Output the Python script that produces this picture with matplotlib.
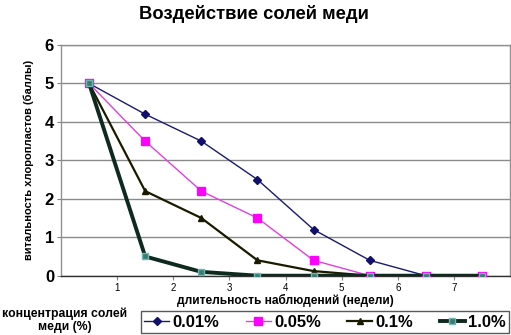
import matplotlib
matplotlib.use("Agg")
import matplotlib.pyplot as plt

plt.rcParams['font.family'] = ['Liberation Sans', 'DejaVu Sans']

weeks = [0.5, 1.5, 2.5, 3.5, 4.5, 5.5, 6.5, 7.5]
s001 = [5, 4.2, 3.5, 2.5, 1.2, 0.4, 0, 0]
s005 = [5, 3.5, 2.2, 1.5, 0.4, 0, 0, 0]
s01 = [5, 2.2, 1.5, 0.4, 0.12, 0, 0, 0]
s10 = [5, 0.5, 0.1, 0, 0, 0, 0, 0]
labels = ['0.01%', '0.05%', '0.1%', '1.0%']
xticks = [1, 2, 3, 4, 5, 6, 7]
yticks = [0, 1, 2, 3, 4, 5, 6]

fig = plt.figure(figsize=(5.11, 3.35), dpi=100)
ax = fig.add_axes([61/511, 1-275.7/335, 449/511, 230.7/335])

l1, = ax.plot(weeks, s001, color='#1a1a6e', lw=1.0, marker='D', ms=4,
              mfc='#10106a', mec='#10106a', label=labels[0], zorder=3)
l2, = ax.plot(weeks, s005, color='#e040e0', lw=1.0, marker='s', ms=6,
              mfc='#ff00ff', mec='#ff00ff', label=labels[1], zorder=3)
l3, = ax.plot(weeks, s01, color='#1a1a00', lw=1.6, marker='^', ms=5,
              mfc='#1a1a00', mec='#1a1a00', label=labels[2], zorder=3)
l4, = ax.plot(weeks, s10, color='#0e2a1e', lw=2.8, marker='s', ms=5,
              mfc='#3c7a74', mec='#6fb8b0', mew=1.0, label=labels[3], zorder=4)

ax.set_xlim(0, 8)
ax.set_ylim(0, 6)
ax.set_xticks(xticks)
ax.set_yticks(yticks)
ax.tick_params(axis='x', labelsize=7, length=3, color='#808080', pad=2)
ax.tick_params(axis='y', labelsize=12, length=3, color='#808080', pad=2)
for t in ax.get_yticklabels():
    t.set_fontweight('bold')
ax.yaxis.grid(True, color='#8a8a8a', lw=1.0)
ax.set_axisbelow(True)
for sp in ax.spines.values():
    sp.set_color('#909090')
    sp.set_linewidth(1.0)
ax.spines['bottom'].set_color('#303030')

ax.set_ylabel('витальность хлоропластов (баллы)', fontsize=8, fontweight='bold', labelpad=8)
ax.set_xlabel('длительность наблюдений (недели)', fontsize=8.6, fontweight='bold', labelpad=1)

fig.text(254/511, 1-14/335, 'Воздействие солей меди', ha='center', va='center',
         fontsize=13.2, fontweight='bold')
fig.text(65/511, 1-320/335, 'концентрация солей\nмеди (%)', ha='center', va='center',
         fontsize=8.8, fontweight='bold', linespacing=1.1)

x0, x1 = 141/511, 509/511
y0, y1 = 1-333/335, 1-308/335
leg = fig.legend(handles=[l1, l2, l3, l4], ncol=4, loc='lower left', mode='expand',
                 bbox_to_anchor=(x0, y0, x1-x0, y1-y0), frameon=True, fancybox=False,
                 prop={'size': 12, 'weight': 'bold'}, handlelength=1.5, handletextpad=0.2,
                 columnspacing=0.8, borderpad=0.2, borderaxespad=0)
leg.get_frame().set_edgecolor('#303030')
leg.get_frame().set_linewidth(1.0)

fig.savefig('out.png', dpi=100)
